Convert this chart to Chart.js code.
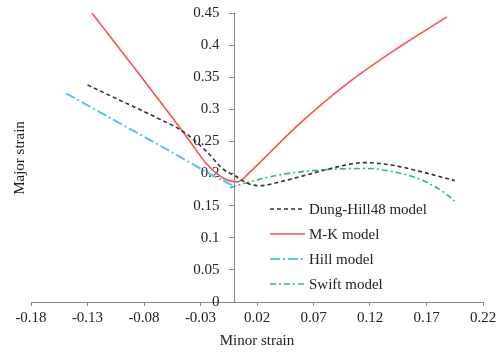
<!DOCTYPE html>
<html>
<head>
<meta charset="utf-8">
<script src="https://cdn.jsdelivr.net/npm/chart.js@4"></script>
<style>
  html, body { margin: 0; padding: 0; background: #fff; }
  #wrap { width: 500px; height: 354px; }
</style>
</head>
<body>
<div id="wrap"><canvas id="fld"></canvas></div>
<script>
// tick positions
const xTicks = [-0.18, -0.13, -0.08, -0.03, 0.02, 0.07, 0.12, 0.17, 0.22];
const yTicks = [0, 0.05, 0.1, 0.15, 0.2, 0.25, 0.3, 0.35, 0.4, 0.45];

// forming limit curves, [minor strain, major strain]
const dungHill48 = [
  [-0.13, 0.338], [-0.1, 0.313], [-0.07, 0.288], [-0.045, 0.265], [-0.025, 0.235],
  [-0.01, 0.207], [0.002, 0.195], [0.01, 0.186], [0.022, 0.181], [0.04, 0.187],
  [0.06, 0.196], [0.09, 0.21], [0.115, 0.217], [0.14, 0.213], [0.165, 0.203], [0.195, 0.189]
];
const mkModel = [
  [-0.127, 0.452], [-0.09, 0.368], [-0.06, 0.299], [-0.04, 0.252], [-0.025, 0.216],
  [-0.01, 0.193], [0.003, 0.187], [0.013, 0.201], [0.031, 0.232], [0.058, 0.278],
  [0.102, 0.343], [0.146, 0.397], [0.188, 0.444]
];
const hillModel = [
  [-0.149, 0.325], [-0.1, 0.277], [-0.05, 0.228], [-0.02, 0.198], [-0.002, 0.182]
];
const swiftModel = [
  [-0.004, 0.178], [0.02, 0.19], [0.04, 0.198], [0.06, 0.203], [0.09, 0.207],
  [0.117, 0.208], [0.14, 0.203], [0.16, 0.194], [0.175, 0.182], [0.186, 0.17], [0.195, 0.157]
];

const seriesNames = ["Dung-Hill48 model", "M-K model", "Hill model", "Swift model"];

function pts(arr) {
  return arr.map(p => ({ x: p[0], y: p[1] }));
}
function fmt(v) {
  return String(+v.toFixed(2));
}

const FONT = "'Liberation Serif', 'Times New Roman', serif";

// legend drawn inside the plot
const boxLegend = {
  id: "boxLegend",
  afterDraw(chart) {
    const ctx = chart.ctx;
    ctx.save();
    chart.data.datasets.forEach((ds, i) => {
      const y = 209 + i * 25;
      ctx.beginPath();
      ctx.strokeStyle = ds.borderColor;
      ctx.lineWidth = ds.borderWidth;
      ctx.setLineDash(ds.borderDash || []);
      ctx.moveTo(270, y);
      ctx.lineTo(305, y);
      ctx.stroke();
      ctx.setLineDash([]);
      ctx.fillStyle = "#222";
      ctx.font = "15px " + FONT;
      ctx.textBaseline = "middle";
      ctx.fillText(ds.label, 309, y + 1);
    });
    ctx.restore();
  }
};

// y title sits at the far left, not next to the centred axis
const leftTitle = {
  id: "leftTitle",
  beforeDraw(chart) {
    // the axis sits at x = 0, push its labels left of the tick marks
    const s = chart.scales.y;
    const items = s._computeLabelItems(chart.chartArea);
    items.forEach(it => { it.options.translation[0] -= 15; });
    s._labelItems = items;
  },
  afterDraw(chart) {
    const ctx = chart.ctx;
    ctx.save();
    ctx.translate(20, 158);
    ctx.rotate(-Math.PI / 2);
    ctx.fillStyle = "#222";
    ctx.font = "15px " + FONT;
    ctx.textAlign = "center";
    ctx.textBaseline = "middle";
    ctx.fillText("Major strain", 0, 0);
    ctx.restore();
  }
};

const ctx = document.getElementById("fld").getContext("2d");
const flc = new Chart(ctx, {
  type: "line",
  data: {
    datasets: [
      {
        label: seriesNames[0],
        data: pts(dungHill48),
        borderColor: "#333333",
        borderWidth: 1.6,
        borderDash: [4, 3],
      },
      {
        label: seriesNames[1],
        data: pts(mkModel),
        borderColor: "#ff5050",
        borderWidth: 1.6,
      },
      {
        label: seriesNames[2],
        data: pts(hillModel),
        borderColor: "#5bc4ee",
        borderWidth: 2,
        borderDash: [10, 3, 2, 3],
      },
      {
        label: seriesNames[3],
        data: pts(swiftModel),
        borderColor: "#2fb982",
        borderWidth: 1.6,
        borderDash: [6, 3, 2, 3],
      }
    ]
  },
  options: {
    responsive: true,
    maintainAspectRatio: false,
    animation: false,
    layout: { padding: { left: 31, right: 17, top: 13, bottom: 4 } },
    elements: {
      point: { radius: 0 },
      line: { cubicInterpolationMode: "monotone", fill: false }
    },
    plugins: {
      legend: { display: false },
      tooltip: { enabled: false }
    },
    scales: {
      x: {
        type: "linear",
        min: -0.18,
        max: 0.22,
        afterBuildTicks: axis => { axis.ticks = xTicks.map(v => ({ value: v })); },
        grid: { drawOnChartArea: false, drawTicks: true, tickLength: 4, color: "#888" },
        border: { color: "#888" },
        ticks: {
          color: "#222",
          font: { family: FONT, size: 15 },
          padding: 3,
          maxRotation: 0,
          callback: v => fmt(v)
        },
        title: {
          display: true,
          text: "Minor strain",
          color: "#222",
          font: { family: FONT, size: 15 },
          padding: { top: 2, bottom: 0 }
        }
      },
      y: {
        type: "linear",
        position: { x: 0 },
        min: 0,
        max: 0.45,
        afterBuildTicks: axis => { axis.ticks = yTicks.map(v => ({ value: v })); },
        grid: { drawOnChartArea: false, drawTicks: true, tickLength: 5, color: "#888" },
        border: { color: "#888" },
        ticks: {
          color: "#222",
          font: { family: FONT, size: 15 },
          callback: v => fmt(v)
        }
      }
    }
  },
  plugins: [boxLegend, leftTitle]
});
</script>
</body>
</html>
